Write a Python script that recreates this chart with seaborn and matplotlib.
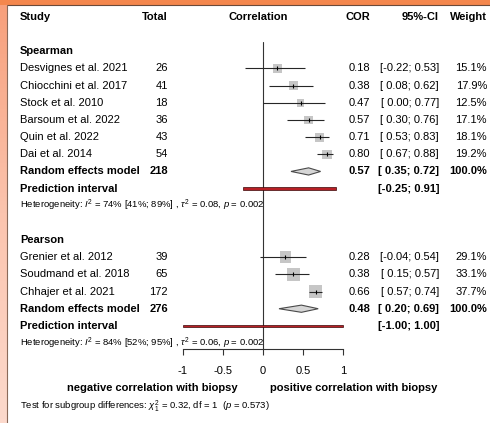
import numpy as np
import pandas as pd
import matplotlib
matplotlib.use("Agg")
import matplotlib.pyplot as plt
from matplotlib.patches import Polygon, Rectangle
from matplotlib.lines import Line2D
from matplotlib.colors import LinearSegmentedColormap
import seaborn as sns

# ---------------- data ----------------
sp_studies = ["Desvignes et al. 2021", "Chiocchini et al. 2017", "Stock et al. 2010",
              "Barsoum et al. 2022", "Quin et al. 2022", "Dai et al. 2014"]
sp_total = [26, 41, 18, 36, 43, 54]
sp_cor = [0.18, 0.38, 0.47, 0.57, 0.71, 0.80]
sp_lo = [-0.22, 0.08, 0.00, 0.30, 0.53, 0.67]
sp_hi = [0.53, 0.62, 0.77, 0.76, 0.83, 0.88]
sp_weight = [15.1, 17.9, 12.5, 17.1, 18.1, 19.2]
sp_re = [0.57, 0.35, 0.72]
sp_re_total = 218
sp_pi = [-0.25, 0.91]
sp_het = r"Heterogeneity: $I^2$ = 74% [41%; 89%] , $\tau^2$ = 0.08, $p$ = 0.002"

pe_studies = ["Grenier et al. 2012", "Soudmand et al. 2018", "Chhajer et al. 2021"]
pe_total = [39, 65, 172]
pe_cor = [0.28, 0.38, 0.66]
pe_lo = [-0.04, 0.15, 0.57]
pe_hi = [0.54, 0.57, 0.74]
pe_weight = [29.1, 33.1, 37.7]
pe_re = [0.48, 0.20, 0.69]
pe_re_total = 276
pe_pi = [-1.00, 1.00]
pe_het = r"Heterogeneity: $I^2$ = 84% [52%; 95%] , $\tau^2$ = 0.06, $p$ = 0.002"

group_names = ["Spearman", "Pearson"]
headers = ["Study", "Total", "Correlation", "COR", "95%-CI", "Weight"]
x_ticks = [-1, -0.5, 0, 0.5, 1]
x_ticklabels = ["-1", "-0.5", "0", "0.5", "1"]
label_left = "negative correlation with biopsy"
label_right = "positive correlation with biopsy"
subgroup_test = r"Test for subgroup differences: $\chi^2_1$ = 0.32, df = 1  ($p$ = 0.573)"

groups = [
    dict(name=group_names[0], studies=sp_studies, total=sp_total, cor=sp_cor, lo=sp_lo,
         hi=sp_hi, weight=sp_weight, re=sp_re, re_total=sp_re_total, pi=sp_pi, het=sp_het),
    dict(name=group_names[1], studies=pe_studies, total=pe_total, cor=pe_cor, lo=pe_lo,
         hi=pe_hi, weight=pe_weight, re=pe_re, re_total=pe_re_total, pi=pe_pi, het=pe_het),
]

# ---------------- style ----------------
sns.set_style("white")
plt.rcParams["font.family"] = ["Liberation Sans", "DejaVu Sans"]
plt.rcParams["mathtext.fontset"] = "custom"
plt.rcParams["mathtext.rm"] = "Liberation Sans"
plt.rcParams["mathtext.it"] = "Liberation Sans:italic"
plt.rcParams["mathtext.bf"] = "Liberation Sans:bold"

W, H = 490, 423
fig = plt.figure(figsize=(W / 100, H / 100), dpi=100)
fig.patch.set_facecolor("white")

# decorative frame (orange top band, salmon left band)
TOP = 5
LEFT = 7
lax = fig.add_axes([0, 0, LEFT / W, 1 - TOP / H], zorder=0)
cmap = LinearSegmentedColormap.from_list("lb", ["#f7a07c", "#fbc4ae", "#fcd9cc"])
lax.imshow(np.linspace(0, 1, 100).reshape(-1, 1), aspect="auto", cmap=cmap)
lax.axis("off")
fig.add_artist(Rectangle((0, 1 - TOP / H), 1, TOP / H, transform=fig.transFigure,
                         facecolor="#f4874d", edgecolor="none", zorder=5))
fig.add_artist(Line2D([LEFT / W, 1], [1 - TOP / H, 1 - TOP / H], transform=fig.transFigure,
                      color="#6b4a3a", lw=0.8, zorder=6))
fig.add_artist(Line2D([LEFT / W, LEFT / W], [0, 1 - TOP / H], transform=fig.transFigure,
                      color="#8a6a5a", lw=0.8, zorder=6))

# layout helpers (pixels -> data)
X0, XS = 263.0, 80.0          # pixel of 0, pixels per unit
Y0, PITCH = 17.0, 17.16       # pixel of row 0, pixels per row
AX_BOTTOM_PX = 349.0


def xd(px):
    return (px - X0) / XS


def yd(px):
    return (px - Y0) / PITCH


ax = fig.add_axes([(X0 - XS) / W, (H - AX_BOTTOM_PX) / H, 2 * XS / W, AX_BOTTOM_PX / H],
                  zorder=2)
ax.set_facecolor("none")
ax.set_xlim(-1, 1)
ax.set_ylim(yd(AX_BOTTOM_PX), yd(0))
for s in ["top", "left", "right"]:
    ax.spines[s].set_visible(False)
ax.spines["bottom"].set_bounds(-1, 1)
ax.spines["bottom"].set_color("#333333")
ax.spines["bottom"].set_linewidth(0.8)
ax.set_yticks([])
ax.set_xticks(x_ticks)
ax.set_xticklabels(x_ticklabels)
ax.tick_params(axis="x", direction="out", length=4.5, width=0.8, color="#333333",
               labelsize=8, pad=7.5, labelcolor="black", bottom=True)

FS = 8
FS_SMALL = 6.8
COL_STUDY = xd(20)
COL_TOTAL = xd(168)
COL_CORR = xd(258)
COL_COR = xd(370)
COL_CI = xd(439)
COL_W = xd(487)


def txt(x, y, s, ha="left", bold=False, fs=FS):
    ax.text(x, y, s, ha=ha, va="center", fontsize=fs,
            fontweight="bold" if bold else "normal", clip_on=False, color="black")


def ci_str(lo, hi):
    return f"[{lo:5.2f}; {hi:.2f}]"


# headers
txt(COL_STUDY, 0, headers[0], bold=True)
txt(COL_TOTAL, 0, headers[1], ha="right", bold=True)
txt(COL_CORR, 0, headers[2], ha="center", bold=True)
txt(COL_COR, 0, headers[3], ha="right", bold=True)
txt(COL_CI, 0, headers[4], ha="right", bold=True)
txt(COL_W, 0, headers[5], ha="right", bold=True)

frames = []
row = 2
for g in groups:
    txt(COL_STUDY, row, g["name"], bold=True)
    row += 1
    ys = list(range(row, row + len(g["studies"])))
    for y, st, n, c, lo, hi, w in zip(ys, g["studies"], g["total"], g["cor"], g["lo"], g["hi"], g["weight"]):
        txt(COL_STUDY, y, st)
        txt(COL_TOTAL, y, str(n), ha="right")
        txt(COL_COR, y, f"{c:.2f}", ha="right")
        txt(COL_CI, y, ci_str(lo, hi), ha="right")
        txt(COL_W, y, f"{w:.1f}%", ha="right")
    frames.append(pd.DataFrame(dict(y=ys, cor=g["cor"], lo=g["lo"], hi=g["hi"], weight=g["weight"])))
    row += len(g["studies"])
    # random effects
    est, lo, hi = g["re"]
    txt(COL_STUDY, row, "Random effects model", bold=True)
    txt(COL_TOTAL, row, str(g["re_total"]), ha="right", bold=True)
    txt(COL_COR, row, f"{est:.2f}", ha="right", bold=True)
    txt(COL_CI, row, ci_str(lo, hi), ha="right", bold=True)
    txt(COL_W, row, "100.0%", ha="right", bold=True)
    hh = 0.21
    ax.add_patch(Polygon([(lo, row), (est, row - hh), (hi, row), (est, row + hh)], closed=True,
                         facecolor="#d6d6d6", edgecolor="#4a4a4a", linewidth=0.8, zorder=3,
                         clip_on=False))
    row += 1
    # prediction interval
    plo, phi = g["pi"]
    txt(COL_STUDY, row, "Prediction interval", bold=True)
    txt(COL_CI, row, ci_str(plo, phi), ha="right", bold=True)
    ax.add_patch(Rectangle((plo, row - 0.08), phi - plo, 0.16, facecolor="#b81f25",
                           edgecolor="#3a0808", linewidth=0.5, zorder=3, clip_on=False))
    row += 1
    txt(COL_STUDY, row, g["het"], fs=FS_SMALL)
    row += 2

df = pd.concat(frames, ignore_index=True)

# zero line
ax.plot([0, 0], [yd(42), yd(AX_BOTTOM_PX)], color="#333333", lw=0.8, zorder=1, clip_on=False)

# study squares (area proportional to weight)
sns.scatterplot(data=df, x="cor", y="y", size="weight", sizes=(0, 96), size_norm=(0, 40),
                marker="s", color="#c6c6c6", linewidth=0, legend=False, ax=ax, zorder=2,
                clip_on=False)
ax.hlines(df["y"], df["lo"], df["hi"], color="#262626", lw=0.8, zorder=3, clip_on=False)
ax.plot(df["cor"], df["y"], ls="", marker="|", ms=3.5, mew=0.8, color="black", zorder=4,
        clip_on=False)
ax.set_xlabel("")
ax.set_ylabel("")
ax.set_xlim(-1, 1)
ax.set_ylim(yd(AX_BOTTOM_PX), yd(0))

# bottom labels
txt(xd(238), yd(388), label_left, ha="right", bold=True)
txt(xd(270), yd(388), label_right, ha="left", bold=True)
txt(COL_STUDY, yd(406), subgroup_test, fs=FS_SMALL)

fig.savefig("out.png", dpi=100)
